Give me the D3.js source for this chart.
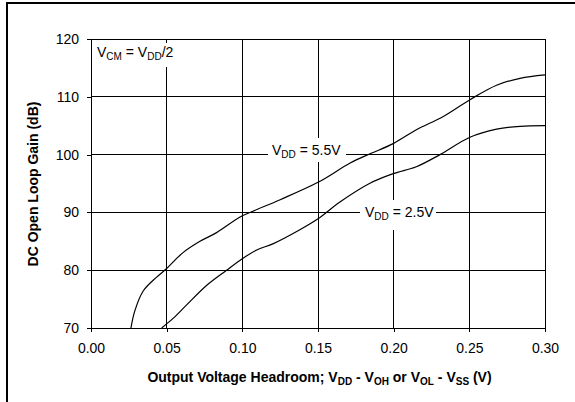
<!DOCTYPE html>
<html>
<head>
<meta charset="utf-8">
<script src="https://cdn.jsdelivr.net/npm/d3@7"></script>
<style>
  body { margin: 0; background: #fff; }
  svg { font-family: Arial, "Liberation Sans", sans-serif; }
</style>
</head>
<body>
<div id="chart"></div>
<script>
// data: headroom (V) vs DC open loop gain (dB)
var xTicks = [0.00, 0.05, 0.10, 0.15, 0.20, 0.25, 0.30];
var yTicks = [70, 80, 90, 100, 110, 120];

var vdd55x = [0.0264, 0.029, 0.0345, 0.0434, 0.0496, 0.0606, 0.072, 0.083, 0.0985, 0.107, 0.125, 0.15, 0.171, 0.184, 0.1997, 0.215, 0.2328, 0.2504, 0.268, 0.2835, 0.30];
var vdd55y = [70, 73, 76.4, 78.8, 80.2, 83, 85, 86.5, 89.2, 90.2, 92.2, 95.2, 98.5, 100.1, 101.9, 104.3, 106.6, 109.5, 112, 113.2, 113.8];

var vdd25x = [0.0467, 0.0544, 0.0632, 0.0765, 0.0896, 0.10, 0.1095, 0.1205, 0.138, 0.15, 0.1645, 0.184, 0.1997, 0.215, 0.2306, 0.2504, 0.268, 0.2835, 0.30];
var vdd25y = [70, 71.7, 74, 77.4, 80, 82, 83.5, 84.6, 87, 88.9, 91.8, 95, 96.7, 97.9, 100, 103, 104.4, 104.9, 105];

var width = 575, height = 402;
var pLeft = 91, pRight = 545, pTop = 39, pBottom = 328;

var svg = d3.select("#chart").append("svg")
    .attr("width", width)
    .attr("height", height);

var x = d3.scaleLinear().domain([0, 0.30]).range([pLeft, pRight]);
var y = d3.scaleLinear().domain([70, 120]).range([pBottom, pTop]);

//outer frame (only left and top edges show)
svg.append("path")
    .attr("d", "M7,402 L7,3 L575,3")
    .attr("fill", "none")
    .attr("stroke", "#000")
    .attr("stroke-width", 2);

//grid
var grid = svg.append("g").attr("stroke", "#000").attr("stroke-width", 1).attr("shape-rendering", "crispEdges");
grid.selectAll(".vg").data(xTicks.slice(1))
  .enter().append("line")
    .attr("x1", function(d) { return x(d); })
    .attr("x2", function(d) { return x(d); })
    .attr("y1", pTop).attr("y2", pBottom);
grid.selectAll(".hg").data(yTicks.slice(1))
  .enter().append("line")
    .attr("x1", pLeft).attr("x2", pRight)
    .attr("y1", function(d) { return y(d); })
    .attr("y2", function(d) { return y(d); });

//axes
var xAxis = svg.append("g")
    .attr("transform", "translate(0," + pBottom + ")")
    .call(d3.axisBottom(x).tickValues(xTicks).tickFormat(d3.format(".2f")).tickSize(4).tickSizeOuter(0));
var yAxis = svg.append("g")
    .attr("transform", "translate(" + pLeft + ",0)")
    .call(d3.axisLeft(y).tickValues(yTicks).tickSize(4).tickSizeOuter(0));

[xAxis, yAxis].forEach(function(a) {
  a.select(".domain").attr("stroke", "#000").attr("shape-rendering", "crispEdges");
  a.selectAll(".tick line").attr("stroke", "#000").attr("shape-rendering", "crispEdges");
  a.selectAll("text").attr("font-size", "14px").attr("font-family", "Arial, 'Liberation Sans', sans-serif").attr("fill", "#000");
});
xAxis.selectAll("text").attr("y", 15).attr("dy", "0.71em");
yAxis.selectAll("text").attr("x", -12);

//curves
svg.append("clipPath").attr("id", "clip")
  .append("rect").attr("x", pLeft).attr("y", pTop).attr("width", pRight - pLeft).attr("height", pBottom - pTop);

var line = d3.line()
    .x(function(d) { return x(d[0]); })
    .y(function(d) { return y(d[1]); })
    .curve(d3.curveCatmullRom.alpha(0.5));

[[vdd55x, vdd55y], [vdd25x, vdd25y]].forEach(function(s) {
  svg.append("path")
      .datum(d3.zip(s[0], s[1]))
      .attr("clip-path", "url(#clip)")
      .attr("fill", "none")
      .attr("stroke", "#000")
      .attr("stroke-width", 1.2)
      .attr("d", line);
});

//labels with white boxes over the grid
function label(parts, tx, ty, box) {
  svg.append("rect")
      .attr("x", box[0]).attr("y", box[1])
      .attr("width", box[2]).attr("height", box[3])
      .attr("fill", "#fff");
  var t = svg.append("text")
      .attr("x", tx).attr("y", ty)
      .attr("font-size", "14px");
  parts.forEach(function(p) {
    if (p.sub) {
      t.append("tspan").attr("font-size", "10px").attr("dy", 3).text(p.t);
    } else {
      t.append("tspan").attr("dy", p.after ? -3 : 0).text(p.t);
    }
  });
}

label([{t: "V"}, {t: "CM", sub: true}, {t: " = V", after: true}, {t: "DD", sub: true}, {t: "/2", after: true}],
      97, 57, [93, 43, 84, 24]);
label([{t: "V"}, {t: "DD", sub: true}, {t: " = 5.5V", after: true}],
      272, 155, [268, 138, 78, 24]);
label([{t: "V"}, {t: "DD", sub: true}, {t: " = 2.5V", after: true}],
      365, 217, [360, 200, 76, 30]);

//axis titles
var xt = svg.append("text")
    .attr("x", (143 + 496) / 2).attr("y", 382)
    .attr("text-anchor", "middle")
    .attr("font-size", "14px")
    .attr("font-weight", "bold");
[["Output Voltage Headroom; V"], ["DD", 1], [" - V"], ["OH", 1], [" or V"], ["OL", 1], [" - V"], ["SS", 1], [" (V)"]].forEach(function(p, i) {
  if (p[1]) xt.append("tspan").attr("font-size", "10px").attr("dy", 3).text(p[0]);
  else xt.append("tspan").attr("dy", i ? -3 : 0).text(p[0]);
});

svg.append("text")
    .attr("transform", "translate(38," + (98 + 270) / 2 + ") rotate(-90)")
    .attr("text-anchor", "middle")
    .attr("font-size", "14px")
    .attr("font-weight", "bold")
    .text("DC Open Loop Gain (dB)");
</script>
</body>
</html>
